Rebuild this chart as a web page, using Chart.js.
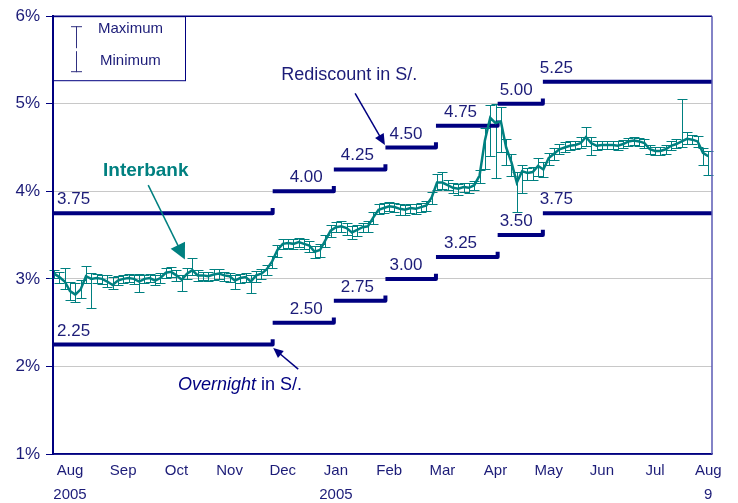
<!DOCTYPE html>
<html>
<head>
<meta charset="utf-8">
<script src="https://cdn.jsdelivr.net/npm/chart.js@4.4.1/dist/chart.umd.min.js"></script>
<style>
    body { margin: 0; background: #ffffff; }
    #wrap { width: 738px; height: 503px; }
</style>
</head>
<body>
<div id="wrap"><canvas id="rateChart" width="738" height="503"></canvas></div>
<script>
// x axis is in months, 0 = Aug 2005
const monthLabels = [['Aug', '2005'], 'Sep', 'Oct', 'Nov', 'Dec', ['Jan', '2005'], 'Feb', 'Mar', 'Apr', 'May', 'Jun', 'Jul', ['Aug', '9']];
const yTicks = [1, 2, 3, 4, 5, 6];

// policy corridor: start of each level (months) and levels
const rateChanges = [-0.32, 3.81, 4.96, 5.93, 6.88, 8.04, 8.89];
const rediscount = [3.75, 4.00, 4.25, 4.50, 4.75, 5.00, 5.25];
const overnight = [2.25, 2.50, 2.75, 3.00, 3.25, 3.50, 3.75];

// interbank rate, one reading every ~2 business days from mid Jul
const interbankStart = -0.3;
const interbankStep = 0.1;
const interbank = [
    3.06, 3.02, 2.97, 2.86, 2.82, 2.88, 3.03, 3.00, 3.01, 3.00,
    2.97, 2.93, 2.98, 3.00, 3.01, 3.00, 2.97, 3.00, 3.01, 2.98,
    3.01, 3.07, 3.08, 3.04, 2.99, 3.06, 3.10, 3.04, 3.04, 3.03,
    3.05, 3.06, 3.04, 3.03, 2.98, 3.01, 3.02, 2.97, 3.04, 3.06,
    3.11, 3.20, 3.33, 3.40, 3.41, 3.40, 3.42, 3.40, 3.38, 3.31,
    3.33, 3.44, 3.55, 3.59, 3.60, 3.58, 3.53, 3.56, 3.59, 3.60,
    3.70, 3.79, 3.81, 3.83, 3.82, 3.80, 3.79, 3.81, 3.80, 3.82,
    3.84, 3.93, 4.10, 4.10, 4.07, 4.04, 4.03, 4.05, 4.04, 4.07,
    4.18, 4.58, 4.84, 4.78, 4.80, 4.50, 4.33, 4.10, 4.23, 4.21,
    4.22, 4.29, 4.25, 4.38, 4.43, 4.48, 4.50, 4.52, 4.53, 4.55,
    4.62, 4.55, 4.52, 4.53, 4.53, 4.53, 4.52, 4.54, 4.57, 4.58,
    4.57, 4.55, 4.48, 4.46, 4.46, 4.48, 4.52, 4.54, 4.57, 4.60,
    4.59, 4.57, 4.44, 4.40
];
const interbankMax = [
    3.10, 3.08, 3.12, 2.97, 2.95, 2.99, 3.15, 3.07, 3.06, 3.05,
    3.05, 3.02, 3.03, 3.05, 3.06, 3.05, 3.06, 3.05, 3.06, 3.04,
    3.07, 3.12, 3.13, 3.10, 3.05, 3.12, 3.24, 3.10, 3.08, 3.08,
    3.11, 3.11, 3.08, 3.07, 3.04, 3.06, 3.07, 3.04, 3.09, 3.11,
    3.16, 3.26, 3.39, 3.45, 3.46, 3.46, 3.47, 3.45, 3.43, 3.38,
    3.40, 3.50, 3.62, 3.65, 3.66, 3.64, 3.60, 3.62, 3.64, 3.66,
    3.76, 3.85, 3.87, 3.88, 3.87, 3.85, 3.84, 3.86, 3.85, 3.87,
    3.89, 3.99, 4.20, 4.22, 4.13, 4.09, 4.08, 4.10, 4.09, 4.12,
    4.24, 4.72, 4.99, 5.00, 4.96, 4.60, 4.43, 4.22, 4.30, 4.27,
    4.28, 4.38, 4.33, 4.44, 4.49, 4.54, 4.56, 4.57, 4.58, 4.62,
    4.74, 4.62, 4.57, 4.58, 4.58, 4.58, 4.57, 4.59, 4.61, 4.62,
    4.61, 4.60, 4.53, 4.51, 4.51, 4.53, 4.58, 4.60, 5.05, 4.68,
    4.64, 4.63, 4.50, 4.46
];
const interbankMin = [
    3.01, 2.95, 2.88, 2.76, 2.74, 2.78, 2.95, 2.67, 2.95, 2.94,
    2.91, 2.88, 2.93, 2.95, 2.96, 2.94, 2.85, 2.95, 2.96, 2.93,
    2.95, 3.01, 3.02, 2.98, 2.86, 3.00, 3.04, 2.98, 2.99, 2.98,
    2.99, 3.00, 2.98, 2.96, 2.88, 2.95, 2.96, 2.84, 2.97, 3.00,
    3.05, 3.12, 3.25, 3.34, 3.35, 3.34, 3.36, 3.34, 3.31, 3.24,
    3.25, 3.36, 3.48, 3.53, 3.54, 3.50, 3.45, 3.49, 3.53, 3.54,
    3.63, 3.74, 3.75, 3.77, 3.76, 3.73, 3.73, 3.75, 3.74, 3.76,
    3.78, 3.86, 4.01, 4.03, 4.01, 3.98, 3.96, 3.99, 3.98, 4.01,
    4.10, 4.25, 4.40, 4.15, 4.45, 4.30, 4.18, 3.76, 3.98, 4.13,
    4.13, 4.17, 4.16, 4.30, 4.36, 4.43, 4.45, 4.47, 4.48, 4.50,
    4.52, 4.42, 4.47, 4.48, 4.48, 4.48, 4.47, 4.49, 4.52, 4.53,
    4.52, 4.50, 4.43, 4.41, 4.41, 4.43, 4.47, 4.49, 4.51, 4.54,
    4.54, 4.51, 4.30, 4.19
];

const AXIS_START = -0.32;
const AXIS_END = 12.07;
const HOOK = 0.06;

const NAVY = '#000080';
const TEXT = '#1c1c78';
const TEAL = '#008080';
const FONT = '"Liberation Sans", Arial, sans-serif';

// pixel nudge of each level label from the start of its segment
const labelNudge = [4, 17, 7, 4, 8, 2, -3];

function corridorPoints(levels) {
    const pts = [];
    levels.forEach((v, i) => {
        const x0 = rateChanges[i];
        const x1 = i + 1 < rateChanges.length ? rateChanges[i + 1] : AXIS_END;
        pts.push({ x: x0, y: v }, { x: x1, y: v });
        if (i + 1 < levels.length) {
            pts.push({ x: x1, y: v + HOOK }, { x: x1, y: null });
        }
    });
    return pts;
}

const interbankPoints = interbank.map((v, i) => ({ x: interbankStart + i * interbankStep, y: v }));

// whiskers for daily max / min
const errorBars = {
    id: 'errorBars',
    beforeDatasetsDraw(chart) {
        const { ctx, scales: { x, y } } = chart;
        ctx.save();
        ctx.strokeStyle = TEAL;
        ctx.lineWidth = 1;
        interbank.forEach((v, i) => {
            const px = Math.round(x.getPixelForValue(interbankStart + i * interbankStep)) + 0.5;
            const top = Math.round(y.getPixelForValue(interbankMax[i])) + 0.5;
            const bot = Math.round(y.getPixelForValue(interbankMin[i])) + 0.5;
            ctx.beginPath();
            ctx.moveTo(px, top); ctx.lineTo(px, bot);
            ctx.moveTo(px - 5, top); ctx.lineTo(px + 5, top);
            ctx.moveTo(px - 5, bot); ctx.lineTo(px + 5, bot);
            ctx.stroke();
        });
        ctx.restore();
    }
};

function arrow(ctx, x1, y1, x2, y2, color, head, width) {
    const a = Math.atan2(y2 - y1, x2 - x1);
    ctx.strokeStyle = color;
    ctx.fillStyle = color;
    ctx.lineWidth = 1.5;
    ctx.beginPath();
    ctx.moveTo(x1, y1);
    ctx.lineTo(x2 - Math.cos(a) * head * 0.8, y2 - Math.sin(a) * head * 0.8);
    ctx.stroke();
    ctx.beginPath();
    ctx.moveTo(x2, y2);
    ctx.lineTo(x2 - head * Math.cos(a) + width * Math.sin(a), y2 - head * Math.sin(a) - width * Math.cos(a));
    ctx.lineTo(x2 - head * Math.cos(a) - width * Math.sin(a), y2 - head * Math.sin(a) + width * Math.cos(a));
    ctx.closePath();
    ctx.fill();
}

const decorations = {
    id: 'decorations',
    afterDatasetsDraw(chart) {
        const { ctx, chartArea: area, scales: { x, y } } = chart;
        ctx.save();

        // frame
        ctx.lineWidth = 1.5;
        ctx.strokeStyle = NAVY;
        ctx.beginPath();
        ctx.moveTo(area.left, area.bottom); ctx.lineTo(area.left, area.top); ctx.lineTo(area.right, area.top);
        ctx.moveTo(area.left, area.bottom); ctx.lineTo(area.right, area.bottom);
        ctx.stroke();
        ctx.strokeStyle = '#5a5ab4';
        ctx.beginPath();
        ctx.moveTo(area.right, area.top); ctx.lineTo(area.right, area.bottom);
        ctx.stroke();

        // level labels
        ctx.fillStyle = TEXT;
        ctx.font = '17px ' + FONT;
        ctx.textBaseline = 'alphabetic';
        [rediscount, overnight].forEach(levels => {
            levels.forEach((v, i) => {
                const px = (i === 0 ? area.left : x.getPixelForValue(rateChanges[i])) + labelNudge[i];
                ctx.fillText(v.toFixed(2), px, y.getPixelForValue(v) - 9);
            });
        });

        // legend box
        const lx = area.left, ly = area.top;
        ctx.strokeStyle = NAVY;
        ctx.lineWidth = 1;
        ctx.strokeRect(lx + 0.5, ly + 0.5, 132, 64);
        ctx.strokeStyle = '#303080';
        ctx.beginPath();
        ctx.moveTo(lx + 23.5, ly + 10); ctx.lineTo(lx + 23.5, ly + 32);
        ctx.moveTo(lx + 18, ly + 10.5); ctx.lineTo(lx + 29, ly + 10.5);
        ctx.moveTo(lx + 23.5, ly + 35); ctx.lineTo(lx + 23.5, ly + 56);
        ctx.moveTo(lx + 18, ly + 55.5); ctx.lineTo(lx + 29, ly + 55.5);
        ctx.stroke();
        ctx.font = '15px ' + FONT;
        ctx.textBaseline = 'middle';
        ctx.fillText('Maximum', lx + 45, ly + 13);
        ctx.fillText('Minimum', lx + 47, ly + 45);

        // annotations
        ctx.font = '18px ' + FONT;
        ctx.fillText('Rediscount in S/.', x.getPixelForValue(3.97), y.getPixelForValue(5.33));
        arrow(ctx, x.getPixelForValue(5.36), y.getPixelForValue(5.12), x.getPixelForValue(5.92), y.getPixelForValue(4.53), NAVY, 11, 5);

        const ox = x.getPixelForValue(2.03), oy = y.getPixelForValue(1.79);
        ctx.font = 'italic 18px ' + FONT;
        ctx.fillText('Overnight', ox, oy);
        const w = ctx.measureText('Overnight').width;
        ctx.font = '18px ' + FONT;
        ctx.fillText(' in S/.', ox + w, oy);
        arrow(ctx, x.getPixelForValue(4.29), y.getPixelForValue(1.97), x.getPixelForValue(3.82), y.getPixelForValue(2.21), NAVY, 10, 4.5);

        ctx.fillStyle = TEAL;
        ctx.font = 'bold 19px ' + FONT;
        ctx.fillText('Interbank', x.getPixelForValue(0.62), y.getPixelForValue(4.24));
        arrow(ctx, x.getPixelForValue(1.47), y.getPixelForValue(4.07), x.getPixelForValue(2.16), y.getPixelForValue(3.22), TEAL, 16, 8);

        ctx.restore();
    }
};

const ctx = document.getElementById('rateChart').getContext('2d');
new Chart(ctx, {
    type: 'line',
    data: {
        datasets: [
            {
                label: 'Interbank',
                data: interbankPoints,
                borderColor: TEAL,
                borderWidth: 2.5,
                pointRadius: 0,
                tension: 0
            },
            {
                label: 'Rediscount',
                data: corridorPoints(rediscount),
                borderColor: NAVY,
                borderWidth: 4,
                pointRadius: 0,
                spanGaps: false,
                borderJoinStyle: 'round'
            },
            {
                label: 'Overnight',
                data: corridorPoints(overnight),
                borderColor: NAVY,
                borderWidth: 4,
                pointRadius: 0,
                spanGaps: false,
                borderJoinStyle: 'round'
            }
        ]
    },
    options: {
        responsive: false,
        animation: false,
        layout: { padding: { top: 12, right: 26, left: 0, bottom: 0 } },
        plugins: {
            legend: { display: false },
            tooltip: { enabled: false }
        },
        scales: {
            x: {
                type: 'linear',
                min: AXIS_START,
                max: AXIS_END,
                afterBuildTicks: s => { s.ticks = monthLabels.map((l, i) => ({ value: i })); },
                afterFit: s => { s.height = 49; },
                ticks: {
                    autoSkip: false,
                    maxRotation: 0,
                    padding: 5,
                    color: TEXT,
                    font: { family: FONT, size: 15, lineHeight: 1.6 },
                    callback: (value, index) => monthLabels[index]
                },
                grid: { display: false, drawTicks: false },
                border: { color: NAVY, width: 1.5 }
            },
            y: {
                min: 1,
                max: 6,
                afterBuildTicks: s => { s.ticks = yTicks.map(v => ({ value: v })); },
                afterFit: s => { s.width = 53; },
                ticks: {
                    padding: 6,
                    color: TEXT,
                    font: { family: FONT, size: 17 },
                    callback: v => v + '%'
                },
                grid: {
                    color: c => (c.tick && c.tick.value > 1 && c.tick.value < 6) ? '#c8c8c8' : 'rgba(0,0,0,0)',
                    tickColor: NAVY,
                    tickLength: 7
                },
                border: { color: NAVY, width: 2 }
            }
        }
    },
    plugins: [errorBars, decorations]
});
</script>
</body>
</html>
